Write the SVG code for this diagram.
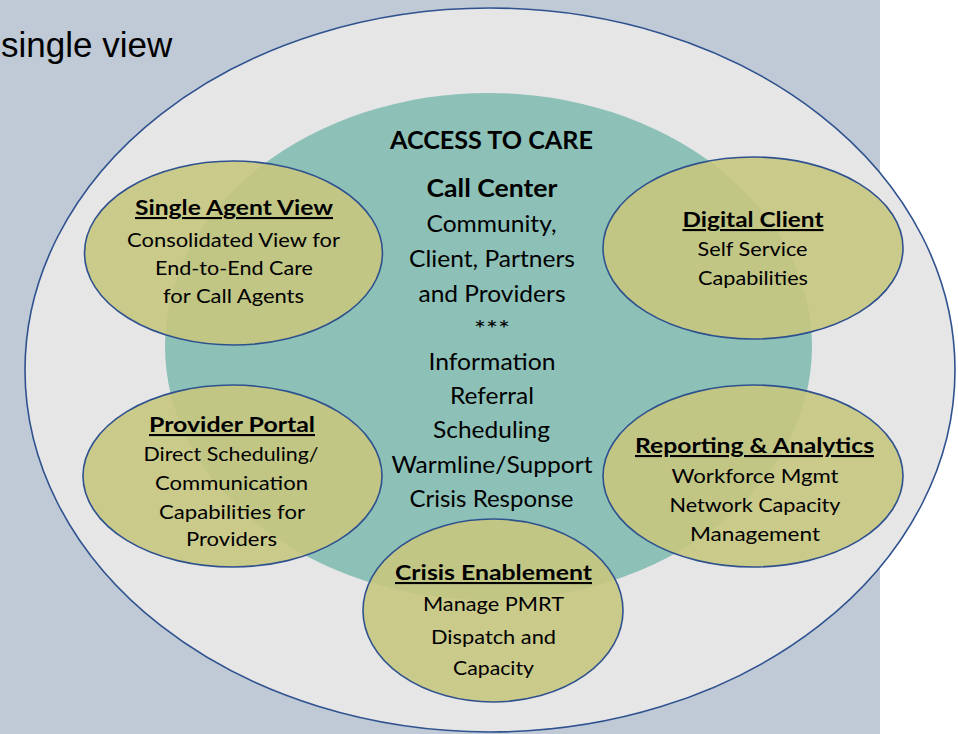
<svg xmlns="http://www.w3.org/2000/svg" width="958" height="734" viewBox="0 0 958 734">
<style>
  .bg { fill: #BFCAD6; }
  .outer { fill: #E6E6E6; stroke: #2F528F; stroke-width: 1.6; }
  .core { fill: #8DC1B8; }
  .pod { fill: #C6C680; fill-opacity: 0.9; stroke: #2F528F; stroke-width: 1.6; }
  text { font-family: Lato, "Liberation Sans", sans-serif; fill: #000; text-anchor: middle; }
  .ttl { font-weight: bold; font-size: 21px; text-decoration: underline; }
  .body { font-size: 19px; }
  .cbody { font-size: 22.5px; }
  .chead { font-weight: bold; font-size: 24px; }
  .side { font-family: "Liberation Sans", Arial, sans-serif; font-size: 35px; text-anchor: start; }
</style>
<rect class="bg" x="0" y="0" width="880" height="734"/>
<text class="side" x="1" y="57">single view</text>

<g id="outer-ring">
  <ellipse class="outer" cx="490" cy="370" rx="465" ry="362"/>
</g>

<g id="access-to-care">
  <ellipse class="core" cx="488.5" cy="346.5" rx="323.5" ry="253.5"/>
  <text class="chead" x="491.5" y="149" textLength="203" lengthAdjust="spacingAndGlyphs">ACCESS TO CARE</text>
  <text class="chead" x="492" y="197" textLength="131" lengthAdjust="spacingAndGlyphs">Call Center</text>
  <text class="cbody" x="491.5" y="232" textLength="130" lengthAdjust="spacingAndGlyphs">Community,</text>
  <text class="cbody" x="492" y="267" textLength="166" lengthAdjust="spacingAndGlyphs">Client, Partners</text>
  <text class="cbody" x="492" y="302" textLength="147" lengthAdjust="spacingAndGlyphs">and Providers</text>
  <text class="cbody" x="492" y="337" textLength="36" lengthAdjust="spacingAndGlyphs">***</text>
  <text class="cbody" x="492" y="370" textLength="127" lengthAdjust="spacingAndGlyphs">Information</text>
  <text class="cbody" x="492" y="404" textLength="84" lengthAdjust="spacingAndGlyphs">Referral</text>
  <text class="cbody" x="491.5" y="438" textLength="117" lengthAdjust="spacingAndGlyphs">Scheduling</text>
  <text class="cbody" x="492" y="473" textLength="201" lengthAdjust="spacingAndGlyphs">Warmline/Support</text>
  <text class="cbody" x="491.5" y="507" textLength="164" lengthAdjust="spacingAndGlyphs">Crisis Response</text>
</g>

<g id="single-agent-view">
  <ellipse class="pod" cx="233.5" cy="253" rx="149" ry="92"/>
  <text class="ttl" x="234" y="215" textLength="198" lengthAdjust="spacingAndGlyphs">Single Agent View</text>
  <text class="body" x="233.5" y="247" textLength="213" lengthAdjust="spacingAndGlyphs">Consolidated View for</text>
  <text class="body" x="234" y="275" textLength="158" lengthAdjust="spacingAndGlyphs">End-to-End Care</text>
  <text class="body" x="233.5" y="303" textLength="141" lengthAdjust="spacingAndGlyphs">for Call Agents</text>
</g>

<g id="digital-client">
  <ellipse class="pod" cx="753" cy="248" rx="150" ry="91"/>
  <text class="ttl" x="753" y="227" textLength="141" lengthAdjust="spacingAndGlyphs">Digital Client</text>
  <text class="body" x="752.5" y="256" textLength="110" lengthAdjust="spacingAndGlyphs">Self Service</text>
  <text class="body" x="753" y="285" textLength="110" lengthAdjust="spacingAndGlyphs">Capabilities</text>
</g>

<g id="provider-portal">
  <ellipse class="pod" cx="232.5" cy="476" rx="149.5" ry="91"/>
  <text class="ttl" x="232" y="432" textLength="166" lengthAdjust="spacingAndGlyphs">Provider Portal</text>
  <text class="body" x="231" y="461" textLength="175" lengthAdjust="spacingAndGlyphs">Direct Scheduling/</text>
  <text class="body" x="231.5" y="489.5" textLength="153" lengthAdjust="spacingAndGlyphs">Communication</text>
  <text class="body" x="232" y="518.5" textLength="146" lengthAdjust="spacingAndGlyphs">Capabilities for</text>
  <text class="body" x="231.5" y="546" textLength="91" lengthAdjust="spacingAndGlyphs">Providers</text>
</g>

<g id="reporting-analytics">
  <ellipse class="pod" cx="753" cy="476" rx="150" ry="91"/>
  <text class="ttl" x="754.5" y="453" textLength="239" lengthAdjust="spacingAndGlyphs">Reporting &amp; Analytics</text>
  <text class="body" x="755" y="483" textLength="167" lengthAdjust="spacingAndGlyphs">Workforce Mgmt</text>
  <text class="body" x="755" y="512" textLength="171" lengthAdjust="spacingAndGlyphs">Network Capacity</text>
  <text class="body" x="755" y="541" textLength="130" lengthAdjust="spacingAndGlyphs">Management</text>
</g>

<g id="crisis-enablement">
  <ellipse class="pod" cx="493" cy="610.5" rx="130" ry="91.5"/>
  <text class="ttl" x="493.5" y="580" textLength="197" lengthAdjust="spacingAndGlyphs">Crisis Enablement</text>
  <text class="body" x="493.5" y="611" textLength="141" lengthAdjust="spacingAndGlyphs">Manage PMRT</text>
  <text class="body" x="493.5" y="644" textLength="125" lengthAdjust="spacingAndGlyphs">Dispatch and</text>
  <text class="body" x="493.5" y="675" textLength="81" lengthAdjust="spacingAndGlyphs">Capacity</text>
</g>
</svg>
